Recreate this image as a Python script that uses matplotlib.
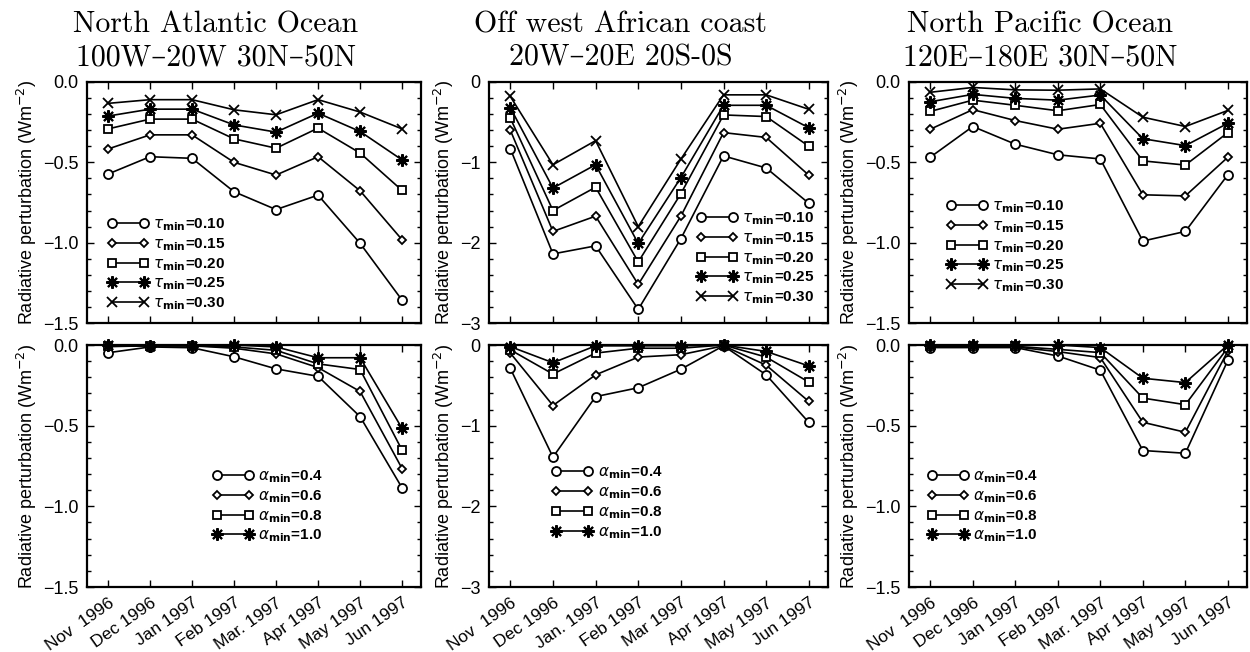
import matplotlib
matplotlib.use("Agg")
import matplotlib.pyplot as plt
from matplotlib.ticker import MultipleLocator, FuncFormatter

plt.rcParams["font.family"] = ["Liberation Sans", "DejaVu Sans"]
plt.rcParams["axes.unicode_minus"] = True

# ---- data -------------------------------------------------------------
months_a = ["Nov  1996", "Dec 1996", "Jan 1997", "Feb 1997", "Mar. 1997",
            "Apr 1997", "May 1997", "Jun 1997"]
months_b = ["Nov  1996", "Dec 1996", "Jan. 1997", "Feb 1997", "Mar 1997",
            "Apr 1997", "May 1997", "Jun 1997"]

tau_min = ["0.10", "0.15", "0.20", "0.25", "0.30"]
alpha_min = ["0.4", "0.6", "0.8", "1.0"]

# North Atlantic, tau_min sensitivity (one row per tau_min)
natl_tau = [
    [-0.573, -0.465, -0.475, -0.683, -0.794, -0.704, -1.004, -1.358],
    [-0.417, -0.329, -0.329, -0.500, -0.579, -0.465, -0.677, -0.982],
    [-0.292, -0.231, -0.231, -0.354, -0.412, -0.287, -0.442, -0.675],
    [-0.212, -0.169, -0.169, -0.267, -0.312, -0.194, -0.308, -0.485],
    [-0.133, -0.110, -0.110, -0.173, -0.204, -0.110, -0.187, -0.292],
]
# Off west African coast, tau_min sensitivity
waf_tau = [
    [-0.83, -2.14, -2.04, -2.83, -1.95, -0.92, -1.07, -1.51],
    [-0.60, -1.86, -1.67, -2.52, -1.67, -0.63, -0.69, -1.16],
    [-0.45, -1.60, -1.31, -2.24, -1.39, -0.41, -0.43, -0.80],
    [-0.32, -1.32, -1.03, -2.01, -1.19, -0.29, -0.29, -0.57],
    [-0.18, -1.03, -0.73, -1.80, -0.96, -0.16, -0.16, -0.34],
]
# North Pacific, tau_min sensitivity
npac_tau = [
    [-0.468, -0.277, -0.387, -0.453, -0.479, -0.990, -0.930, -0.577],
    [-0.294, -0.172, -0.240, -0.294, -0.257, -0.702, -0.709, -0.468],
    [-0.183, -0.113, -0.145, -0.179, -0.140, -0.491, -0.517, -0.315],
    [-0.123, -0.077, -0.102, -0.113, -0.081, -0.353, -0.396, -0.257],
    [-0.064, -0.034, -0.049, -0.051, -0.043, -0.219, -0.277, -0.177],
]
# alpha_min sensitivity (one row per alpha_min)
natl_alpha = [
    [-0.048, -0.012, -0.017, -0.073, -0.148, -0.194, -0.444, -0.886],
    [-0.010, -0.005, -0.005, -0.020, -0.055, -0.140, -0.288, -0.766],
    [-0.008, -0.005, -0.005, -0.012, -0.033, -0.117, -0.152, -0.652],
    [0.000, -0.004, -0.004, 0.000, -0.012, -0.079, -0.079, -0.517],
]
waf_alpha = [
    [-0.29, -1.39, -0.64, -0.53, -0.30, -0.01, -0.37, -0.96],
    [-0.10, -0.75, -0.37, -0.15, -0.12, -0.01, -0.25, -0.70],
    [-0.06, -0.36, -0.10, -0.04, -0.04, 0.00, -0.15, -0.46],
    [-0.02, -0.22, -0.01, -0.01, -0.01, 0.00, -0.08, -0.26],
]
npac_alpha = [
    [-0.016, -0.016, -0.016, -0.068, -0.156, -0.654, -0.671, -0.095],
    [-0.012, -0.012, -0.012, -0.041, -0.078, -0.479, -0.541, -0.037],
    [-0.008, -0.008, -0.008, -0.027, -0.047, -0.329, -0.370, -0.016],
    [0.000, 0.000, 0.000, 0.000, -0.016, -0.206, -0.233, 0.000],
]

titles = [
    ("North Atlantic Ocean", "100W\u201320W 30N\u201350N"),
    ("Off west African coast", "20W\u201320E 20S-0S"),
    ("North Pacific Ocean", "120E\u2013180E 30N\u201350N"),
]

# ---- styling ----------------------------------------------------------
markers = ["o", "D", "s", (8, 2, 0), "x"]
msizes = [6.5, 4.5, 6.0, 9.0, 7.0]

fig = plt.figure(figsize=(12.5, 6.52), dpi=100)
W, H = 1250.0, 652.0


def add_axes(x0, x1, y0, y1):
    return fig.add_axes([x0 / W, 1 - y1 / H, (x1 - x0) / W, (y1 - y0) / H])


cols = [(87, 421), (489, 828), (909, 1247)]
rows = [(82, 323), (345, 587)]

fmt1 = FuncFormatter(lambda v, p: ("%.1f" % v).replace("-", "\u2212") if abs(v) > 1e-9 else "0.0")
fmt0 = FuncFormatter(lambda v, p: ("%d" % round(v)).replace("-", "\u2212"))


def style(ax, ymin, major, minor, fmt, bottom_labels, labels):
    ax.set_xlim(-0.5, 7.45)
    ax.set_ylim(ymin, 0)
    ax.set_xticks(range(8))
    ax.yaxis.set_major_locator(MultipleLocator(major))
    ax.yaxis.set_minor_locator(MultipleLocator(minor))
    ax.yaxis.set_major_formatter(fmt)
    ax.tick_params(which="both", direction="in", top=True, right=True,
                   labelsize=13, pad=6)
    ax.tick_params(which="major", length=5, width=1.0)
    ax.tick_params(which="minor", length=3, width=1.0)
    for s in ax.spines.values():
        s.set_linewidth(1.6)
    if bottom_labels:
        ax.set_xticklabels(labels, rotation=35, ha="right",
                           rotation_mode="anchor", fontsize=12.5)
    else:
        ax.set_xticklabels([])
    ax.set_ylabel("Radiative perturbation (Wm$^{-2}$)", fontsize=13, labelpad=3)


def draw(ax, series, names, sym):
    x = list(range(8))
    for vals, name, m, ms in zip(series, names, markers, msizes):
        ax.plot(x, vals, color="black", lw=1.2, marker=m, ms=ms,
                mfc="white", mec="black", mew=1.3 if m != (8, 2, 0) else 1.5,
                label=r"$%s_{\mathbf{min}}$=%s" % (sym, name), clip_on=False,
                zorder=3)


tau_sets = [natl_tau, waf_tau, npac_tau]
alpha_sets = [natl_alpha, waf_alpha, npac_alpha]
ylims = [(-1.5, 0.5, 0.1, fmt1), (-3.0, 1.0, 0.2, fmt0), (-1.5, 0.5, 0.1, fmt1)]
xlabels = [months_a, months_b, months_a]

legend_top = [
    dict(loc="lower left", bbox_to_anchor=(0.06, 0.045)),
    dict(loc="lower right", bbox_to_anchor=(0.96, 0.07)),
    dict(loc="lower left", bbox_to_anchor=(0.11, 0.12)),
]
legend_bot = [
    dict(loc="upper left", bbox_to_anchor=(0.375, 0.49)),
    dict(loc="upper left", bbox_to_anchor=(0.185, 0.505)),
    dict(loc="upper left", bbox_to_anchor=(0.055, 0.49)),
]
legend_kw = dict(frameon=False, numpoints=2, handlelength=2.7,
                 handletextpad=0.3, labelspacing=0.2, borderaxespad=0,
                 borderpad=0, prop={"weight": "bold", "size": 11})

for i, (c0, c1) in enumerate(cols):
    ymin, maj, mnr, fmt = ylims[i]

    ax_t = add_axes(c0, c1, *rows[0])
    draw(ax_t, tau_sets[i], tau_min, r"\tau")
    style(ax_t, ymin, maj, mnr, fmt, False, xlabels[i])
    ax_t.legend(**legend_kw, **legend_top[i])

    ax_b = add_axes(c0, c1, *rows[1])
    draw(ax_b, alpha_sets[i], alpha_min, r"\alpha")
    style(ax_b, ymin, maj, mnr, fmt, True, xlabels[i])
    ax_b.legend(**legend_kw, **legend_bot[i])

    xc = (c0 + c1) / 2.0 - 38
    for k, line in enumerate(titles[i]):
        fig.text(xc / W, 1 - (25 + 33 * k) / H, line, ha="center", va="center",
                 fontsize=21.5, family=["cmr10", "DejaVu Serif"])

fig.savefig("out.png", dpi=100)
